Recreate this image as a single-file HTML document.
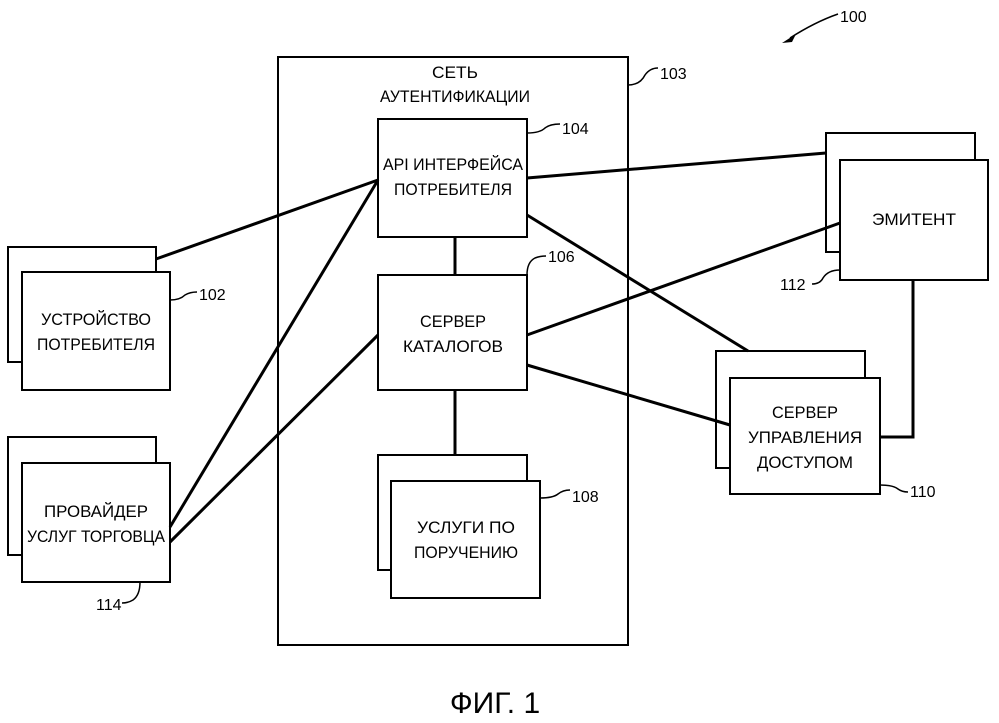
<!DOCTYPE html>
<html><head><meta charset="utf-8"><style>
html,body{margin:0;padding:0;background:#fff;}
svg{display:block;}
text{font-family:"Liberation Sans","DejaVu Sans",sans-serif;fill:#000;}
</style></head><body>
<svg width="999" height="723" viewBox="0 0 999 723" xmlns="http://www.w3.org/2000/svg">
<g fill="#fff" stroke="#000" stroke-width="2">
<rect x="278" y="57" width="350" height="588"/>
<rect x="378" y="119" width="149" height="118"/>
<rect x="378" y="275" width="149" height="115"/>
<rect x="378" y="455" width="149" height="115"/>
<rect x="391" y="481" width="149" height="117"/>
<rect x="8" y="247" width="148" height="115"/>
<rect x="22" y="272" width="148" height="118"/>
<rect x="8" y="437" width="148" height="118"/>
<rect x="22" y="463" width="148" height="119"/>
<rect x="826" y="133" width="149" height="119"/>
<rect x="840" y="160" width="148" height="120"/>
<rect x="716" y="351" width="149" height="117"/>
<rect x="730" y="378" width="150" height="116"/>
</g>
<g stroke="#000" stroke-width="3" fill="none">
<line x1="156" y1="259" x2="378" y2="180"/>
<line x1="170" y1="527" x2="378" y2="180"/>
<line x1="170" y1="542" x2="378" y2="335"/>
<line x1="527" y1="178" x2="826" y2="153"/>
<line x1="527" y1="215" x2="748" y2="351"/>
<line x1="527" y1="335" x2="840" y2="223"/>
<line x1="527" y1="365" x2="730" y2="425"/>
<line x1="455" y1="237" x2="455" y2="275"/>
<line x1="455" y1="390" x2="455" y2="455"/>
<polyline points="913,280 913,437 880,437"/>
</g>
<g stroke="#000" stroke-width="1.5" fill="none">
<path d="M628 85 Q640 85 645 75 Q650 68 658 68"/>
<path d="M527 133 Q540 133 545 128 Q550 124 560 124"/>
<path d="M527 275 Q527 262 535 258 Q540 256 546 256"/>
<path d="M540 498 Q553 498 558 494 Q563 490 570 490"/>
<path d="M170 300 Q180 300 185 295 Q190 292 197 292"/>
<path d="M140 582 Q140 595 133 600 Q128 603 122 603"/>
<path d="M840 270 Q828 270 823 278 Q820 284 812 284"/>
<path d="M880 485 Q893 485 898 489 Q902 492 908 492"/>
<path d="M838 14 Q815 22 790 38"/>
</g>
<polygon points="782,43 796,34 792,42" fill="#000"/>
<g font-size="17" text-anchor="middle" lengthAdjust="spacingAndGlyphs">
<text x="455" y="78" textLength="46" lengthAdjust="spacingAndGlyphs">СЕТЬ</text>
<text x="455" y="102" textLength="150" lengthAdjust="spacingAndGlyphs">АУТЕНТИФИКАЦИИ</text>
<text x="453" y="170" textLength="140" lengthAdjust="spacingAndGlyphs">API ИНТЕРФЕЙСА</text>
<text x="453" y="195" textLength="118" lengthAdjust="spacingAndGlyphs">ПОТРЕБИТЕЛЯ</text>
<text x="453" y="327" textLength="66" lengthAdjust="spacingAndGlyphs">СЕРВЕР</text>
<text x="453" y="352" textLength="100" lengthAdjust="spacingAndGlyphs">КАТАЛОГОВ</text>
<text x="466" y="533" textLength="98" lengthAdjust="spacingAndGlyphs">УСЛУГИ ПО</text>
<text x="466" y="558" textLength="104" lengthAdjust="spacingAndGlyphs">ПОРУЧЕНИЮ</text>
<text x="96" y="325" textLength="110" lengthAdjust="spacingAndGlyphs">УСТРОЙСТВО</text>
<text x="96" y="350" textLength="118" lengthAdjust="spacingAndGlyphs">ПОТРЕБИТЕЛЯ</text>
<text x="96" y="517" textLength="104" lengthAdjust="spacingAndGlyphs">ПРОВАЙДЕР</text>
<text x="96" y="542" textLength="138" lengthAdjust="spacingAndGlyphs">УСЛУГ ТОРГОВЦА</text>
<text x="914" y="225" textLength="84" lengthAdjust="spacingAndGlyphs">ЭМИТЕНТ</text>
<text x="805" y="418" textLength="66" lengthAdjust="spacingAndGlyphs">СЕРВЕР</text>
<text x="805" y="443" textLength="114" lengthAdjust="spacingAndGlyphs">УПРАВЛЕНИЯ</text>
<text x="805" y="468" textLength="96" lengthAdjust="spacingAndGlyphs">ДОСТУПОМ</text>
</g>
<g font-size="16">
<text x="660" y="79">103</text>
<text x="562" y="134">104</text>
<text x="548" y="262">106</text>
<text x="572" y="502">108</text>
<text x="199" y="300">102</text>
<text x="96" y="610">114</text>
<text x="780" y="290">112</text>
<text x="910" y="497">110</text>
<text x="840" y="22">100</text>
</g>
<text x="495" y="713" font-size="30" text-anchor="middle">ФИГ. 1</text>
</svg>
</body></html>
